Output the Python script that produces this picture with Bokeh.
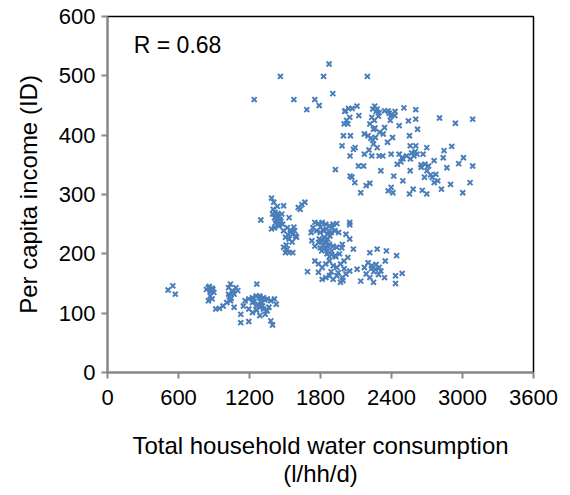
from bokeh.plotting import figure
from bokeh.models import Range1d, FixedTicker, Label
from bokeh.embed import file_html
from bokeh.resources import INLINE

# Upper outliers
top_x = [1240, 1461, 1575, 1684, 1752, 1789, 1826, 1873, 1904, 2196, 1926]
top_y = [460, 499, 460, 443, 460, 450, 499, 520, 470, 499, 342]

# Upper-right cluster
ur_x = [1982, 1994, 2000, 2010, 2037, 2047, 2053, 2068, 2109, 2124, 2031, 2050, 2078, 2093,
        2050, 2065, 2090, 2121, 2164, 2140, 2186, 2217, 2171, 2171, 2202, 2217, 2233, 2242,
        2258, 2279, 2295, 2248, 2264, 2248, 2279, 2233, 2295, 2326, 2310, 2341, 2366, 2341,
        2372, 2403, 2428, 2409, 2397, 2372, 2397, 2412, 2419, 2449, 2465, 2496, 2505, 2496,
        2527, 2543, 2552, 2558, 2558, 2552, 2583, 2589, 2605, 2605, 2605, 2620, 2667, 2682,
        2698, 2713, 2660, 2698, 2679, 2744, 2760, 2775, 2806, 2822, 2837, 2844, 2868, 2899,
        2909, 2940, 2968, 3008, 3002, 3064, 3086, 3086, 2651, 2465, 2490, 2760, 2791,
        2270, 2290, 2255, 2300, 2380, 2395, 2570, 2600, 2615, 2560, 2240, 2260, 2225, 2430,
        2210, 2330, 2390, 2480, 2700, 2730, 2650, 2020, 2005]
ur_y = [382, 399, 419, 441, 445, 430, 399, 445, 449, 433, 419, 365, 376, 379,
        331, 329, 320, 348, 348, 303, 315, 319, 368, 402, 399, 419, 430, 444,
        449, 444, 438, 410, 396, 385, 379, 365, 365, 365, 340, 413, 388, 441,
        441, 435, 433, 396, 368, 306, 312, 303, 331, 351, 416, 323, 446, 360,
        365, 424, 399, 382, 340, 301, 309, 365, 382, 443, 427, 410, 368, 351,
        379, 348, 307, 301, 329, 329, 357, 334, 429, 309, 362, 374, 345, 317,
        381, 420, 352, 362, 303, 320, 348, 427, 346, 368, 362, 320, 323,
        440, 432, 425, 405, 437, 432, 370, 372, 368, 360, 392, 412, 395, 440,
        375, 402, 425, 355, 340, 333, 350, 425, 440]

# Middle cluster A
ma_x = [1386, 1405, 1395, 1411, 1426, 1442, 1457, 1473, 1488, 1386, 1411, 1448, 1488, 1519,
        1535, 1550, 1566, 1581, 1504, 1535, 1597, 1488, 1519, 1566, 1535, 1504, 1296, 1612,
        1643, 1668, 1628, 1415, 1430, 1420, 1440, 1455, 1400, 1435, 1465, 1480, 1545, 1560,
        1510, 1575, 1590, 1525]
ma_y = [294, 287, 267, 261, 256, 264, 258, 267, 281, 242, 244, 247, 239, 244,
        261, 236, 233, 239, 228, 225, 228, 211, 208, 202, 202, 202, 257, 278,
        283, 287, 275, 270, 262, 252, 268, 250, 275, 280, 255, 250, 240, 220,
        215, 245, 230, 232]

# Middle cluster B
mb_x = [1721, 1736, 1752, 1783, 1814, 1845, 1876, 1907, 1938, 1767, 1798, 1829, 1860, 1891,
        1922, 1953, 1727, 1752, 1783, 1814, 1845, 1876, 1907, 1938, 1798, 1829, 1860, 1891,
        1922, 1752, 1783, 1814, 1845, 1876, 1907, 1938, 1969, 1999, 2031, 2078, 2047, 2047,
        2047, 2015, 1984, 1690, 1783, 1814, 1845, 1876, 1907, 1938, 1969, 1984, 2015, 2047,
        2109, 2140, 2171, 2202, 2217, 2233, 2248, 2264, 2279, 2295, 2310, 2341, 2347, 2357,
        2434, 2434, 2443, 2490, 2186, 2217,
        1800, 1820, 1850, 1870, 1830, 1860, 1880, 1840, 1810, 1855, 1875, 1895, 1825, 1865,
        1790, 1900, 1960, 1980, 2000, 1950, 2250, 2270, 2230, 2290, 1930, 1890, 1990]
mb_y = [236, 244, 253, 251, 253, 250, 247, 250, 251, 239, 236, 239, 233, 236,
        239, 236, 222, 213, 219, 222, 219, 216, 213, 211, 210, 208, 205, 199,
        197, 188, 183, 177, 183, 188, 180, 177, 183, 188, 194, 208, 225, 253,
        249, 233, 216, 170, 169, 157, 160, 163, 157, 163, 152, 160, 166, 171,
        174, 154, 177, 185, 202, 180, 152, 174, 208, 177, 171, 160, 188, 205,
        163, 150, 197, 167, 166, 160,
        245, 240, 242, 238, 228, 225, 230, 210, 205, 200, 195, 205, 215, 212,
        225, 245, 200, 210, 175, 168, 170, 182, 175, 165, 195, 170, 155]

# Lower-left cluster
ll_x = [512, 552, 573, 837, 853, 868, 884, 899, 868, 884, 853, 915, 946, 977, 1008, 1023,
        1023, 1039, 1054, 1070, 1085, 1101, 1039, 1070, 1126, 1194, 1126, 1148, 1163, 1194,
        1225, 1256, 1287, 1318, 1349, 1380, 1411, 1426, 1262, 1225, 1256, 1287, 1318, 1349,
        1287, 1333, 1380, 1395, 1194, 1225, 1364,
        860, 875, 890, 1030, 1045, 1060, 1240, 1270, 1300, 1330, 1260, 1310, 1290]
ll_y = [139, 146, 132, 140, 143, 138, 142, 135, 129, 124, 121, 107, 108, 112, 118, 132,
        143, 149, 138, 132, 143, 138, 121, 110, 84, 86, 98, 112, 121, 124,
        126, 129, 129, 126, 124, 121, 124, 115, 149, 118, 112, 110, 107, 104,
        96, 98, 87, 80, 107, 101, 110,
        145, 136, 140, 128, 125, 135, 120, 115, 118, 122, 105, 112, 125]

x_ticks = [0, 600, 1200, 1800, 2400, 3000, 3600]
y_ticks = [0, 100, 200, 300, 400, 500, 600]

xs = top_x + ur_x + ma_x + mb_x + ll_x
ys = top_y + ur_y + ma_y + mb_y + ll_y

FONT = "Liberation Sans"

p = figure(width=562, height=490, output_backend="svg", toolbar_location=None,
           x_range=Range1d(0, 3600), y_range=Range1d(0, 600),
           min_border_left=107, min_border_right=29, min_border_top=16, min_border_bottom=118)
p.grid.visible = False
p.outline_line_color = "black"
p.outline_line_width = 1.5
p.background_fill_color = "white"
p.border_fill_color = "white"

p.scatter(xs, ys, marker="x", size=7, line_color="#4A7EBB", line_width=2)

for ax in (p.xaxis[0], p.yaxis[0]):
    ax.axis_line_color = "#888888"
    ax.axis_line_width = 2
    ax.major_tick_line_color = "#888888"
    ax.major_tick_line_width = 2
    ax.major_tick_out = 6
    ax.major_tick_in = 0
    ax.minor_tick_line_color = None
    ax.major_label_text_font = FONT
    ax.major_label_text_font_size = "22px"
    ax.major_label_text_color = "black"
    ax.axis_label_text_font = FONT
    ax.axis_label_text_font_size = "24px"
    ax.axis_label_text_font_style = "normal"
    ax.axis_label_text_color = "black"

p.xaxis.ticker = FixedTicker(ticks=x_ticks)
p.yaxis.ticker = FixedTicker(ticks=y_ticks)
p.xaxis.major_label_standoff = 11
p.yaxis.major_label_standoff = 6
p.xaxis.axis_label = "Total household water consumption\n(l/hh/d)"
p.xaxis.axis_label_standoff = 24
p.xaxis.axis_label_text_line_height = 1.05
p.yaxis.axis_label = "Per capita income (ID)"
p.yaxis.axis_label_standoff = 14

p.add_layout(Label(x=222, y=552, text="R = 0.68", text_font=FONT, text_font_size="23px",
                   text_color="black", text_baseline="middle"))

open("out.html", "w").write(file_html(p, INLINE))
